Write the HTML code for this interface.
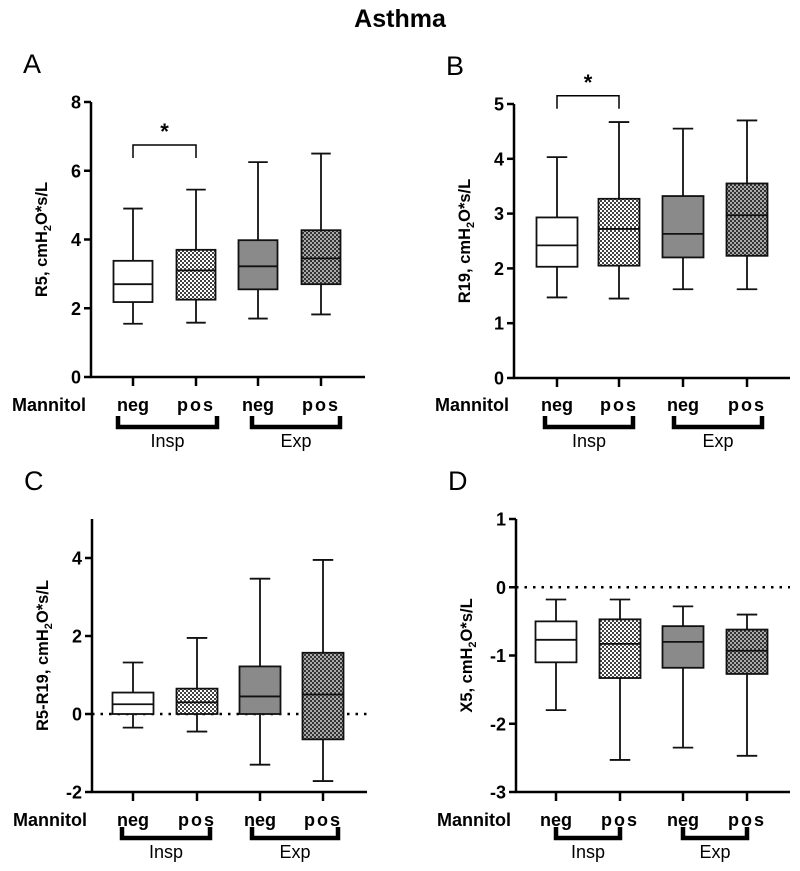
<!DOCTYPE html>
<html><head><meta charset="utf-8"><style>
html,body{margin:0;padding:0;background:#fff;width:800px;height:871px;overflow:hidden}
svg text{font-family:"Liberation Sans",Arial,sans-serif}
</style></head><body>
<svg id="fig" width="800" height="871" viewBox="0 0 800 871" xmlns="http://www.w3.org/2000/svg">
<defs>
<pattern id="chkLight" width="4" height="4" patternUnits="userSpaceOnUse"><rect width="4" height="4" fill="#fff"/><rect width="2" height="2" fill="#444"/><rect x="2" y="2" width="2" height="2" fill="#444"/></pattern>
<pattern id="chkDark" width="4" height="4" patternUnits="userSpaceOnUse"><rect width="4" height="4" fill="#333"/><rect width="2" height="2" fill="#aaa"/><rect x="2" y="2" width="2" height="2" fill="#aaa"/></pattern>
</defs>
<text x="400" y="27" text-anchor="middle" font-size="25" font-weight="bold">Asthma</text>
</svg>
<script>
// categories
const categories = ["neg","pos","neg","pos"];
const groups = ["Insp","Exp"];
// Panel A: R5
const aMin=[1.55,1.58,1.7,1.82], aQ1=[2.18,2.25,2.55,2.7], aMed=[2.7,3.1,3.22,3.45], aQ3=[3.38,3.7,3.98,4.27], aMax=[4.9,5.45,6.25,6.5];
const aTicks=[0,2,4,6,8];
// Panel B: R19
const bMin=[1.47,1.45,1.62,1.62], bQ1=[2.03,2.05,2.2,2.23], bMed=[2.42,2.72,2.63,2.97], bQ3=[2.93,3.27,3.32,3.55], bMax=[4.03,4.67,4.55,4.7];
const bTicks=[0,1,2,3,4,5];
// Panel C: R5-R19
const cMin=[-0.35,-0.45,-1.3,-1.72], cQ1=[0,0,0,-0.65], cMed=[0.25,0.3,0.45,0.5], cQ3=[0.55,0.65,1.22,1.57], cMax=[1.32,1.95,3.47,3.95];
const cTicks=[-2,0,2,4];
// Panel D: X5
const dMin=[-1.8,-2.53,-2.35,-2.47], dQ1=[-1.1,-1.33,-1.18,-1.27], dMed=[-0.77,-0.83,-0.8,-0.93], dQ3=[-0.5,-0.47,-0.57,-0.62], dMax=[-0.18,-0.18,-0.28,-0.4];
const dTicks=[-3,-2,-1,0,1];

const NS="http://www.w3.org/2000/svg";
const svg=document.getElementById('fig');
const fills=["#fff","url(#chkLight)","#8a8a8a","url(#chkDark)"];
function mk(tag,attrs,parent,txt){const e=document.createElementNS(NS,tag);for(const k in attrs)e.setAttribute(k,attrs[k]);if(txt!==undefined)e.textContent=txt;(parent||svg).appendChild(e);return e;}

function panel(p){
  const g=mk('g',{});
  
  
  const ys=v=>p.y0-(v-p.vmin)/(p.vmax-p.vmin)*(p.y0-p.y1);
  const lt=mk('text',{x:p.ax-68,y:p.y1-29,'font-size':27},g,p.id);
  
  
  const yt=mk('text',{transform:`translate(${p.ax-44},${(p.y0+p.y1)/2}) rotate(-90)`,'text-anchor':'middle','font-size':16.5,'font-weight':'bold'},g);
  
  
  yt.innerHTML=p.ylab+', cmH<tspan font-size="11" dy="4">2</tspan><tspan dy="-4">O*s/L</tspan>';
  if(p.zero){const z=mk('line',{x1:p.ax,x2:p.xr,y1:ys(0),y2:ys(0),stroke:'#000','stroke-width':2.5,'stroke-dasharray':'2.5 6'},g);
    
    }
  const ya=mk('line',{x1:p.ax,x2:p.ax,y1:p.y1,y2:p.y0+1,stroke:'#000','stroke-width':2.5},g);
  
  
  const xa=mk('line',{x1:p.ax-1,x2:p.xr,y1:p.y0,y2:p.y0,stroke:'#000','stroke-width':2.5},g);
  
  
  p.ticks.forEach(t=>{
    mk('line',{x1:p.ax-7,x2:p.ax,y1:ys(t),y2:ys(t),stroke:'#000','stroke-width':2.5},g);
    const tl=mk('text',{x:p.ax-10,y:ys(t)+6.5,'text-anchor':'end','font-size':18,'font-weight':'bold'},g,String(t));
    
    
  });
  const bw=p.bw;
  for(let i=0;i<4;i++){
    const cx=p.xs[i];
    mk('line',{x1:cx,x2:cx,y1:p.y0,y2:p.y0+9,stroke:'#000','stroke-width':2.5},g);
    const cl=mk('text',{x:cx,y:p.my,'text-anchor':'middle','font-size':18,'font-weight':'bold','letter-spacing':i%2?'2':'0'},g,categories[i]);
    
    
    const bx=mk('g',{},g);
    
    
    const st={stroke:'#111','stroke-width':1.8};
    mk('line',Object.assign({x1:cx,x2:cx,y1:ys(p.mx[i]),y2:ys(p.q3[i])},st),bx);
    mk('line',Object.assign({x1:cx,x2:cx,y1:ys(p.q1[i]),y2:ys(p.mn[i])},st),bx);
    mk('line',Object.assign({x1:cx-bw/4,x2:cx+bw/4,y1:ys(p.mx[i]),y2:ys(p.mx[i])},st),bx);
    mk('line',Object.assign({x1:cx-bw/4,x2:cx+bw/4,y1:ys(p.mn[i]),y2:ys(p.mn[i])},st),bx);
    mk('rect',Object.assign({x:cx-bw/2,y:ys(p.q3[i]),width:bw,height:ys(p.q1[i])-ys(p.q3[i]),fill:fills[i]},st),bx);
    mk('line',Object.assign({x1:cx-bw/2,x2:cx+bw/2,y1:ys(p.md[i]),y2:ys(p.md[i])},st),bx);
  }
  const ml=mk('text',{x:p.ax-5,y:p.my,'text-anchor':'end','font-size':18,'font-weight':'bold'},g,'Mannitol');
  
  
  p.br.forEach((b,k)=>{
    const bg=mk('path',{d:`M${b[0]} ${p.by-11}V${p.by}H${b[1]}V${p.by-11}`,fill:'none',stroke:'#000','stroke-width':4.5},g);
    
    
    const gl=mk('text',{x:(b[0]+b[1])/2,y:p.by+20,'text-anchor':'middle','font-size':18},g,groups[k]);
    
    
  });
  if(p.sig){
    const y=ys(p.sig), yb=ys(p.sig)+13;
    const s=mk('path',{d:`M${p.xs[0]} ${yb}V${y}H${p.xs[1]}V${yb}`,fill:'none',stroke:'#000','stroke-width':1.5},g);
    
    
    const st=mk('text',{x:(p.xs[0]+p.xs[1])/2,y:y-6,'text-anchor':'middle','font-size':22,'font-weight':'bold'},g,'*');
    
    
  }
}
panel({id:'A',ax:91,xr:365,y0:377,y1:102,vmin:0,vmax:8,ticks:aTicks,xs:[133,196,258,321],bw:39,mn:aMin,q1:aQ1,md:aMed,q3:aQ3,mx:aMax,ylab:'R5',my:411,by:427,br:[[118,217],[252,340]],sig:6.75});
panel({id:'B',ax:514,xr:790,y0:378,y1:104,vmin:0,vmax:5,ticks:bTicks,xs:[557,619,683,747],bw:41,mn:bMin,q1:bQ1,md:bMed,q3:bQ3,mx:bMax,ylab:'R19',my:411,by:427,br:[[545,633],[674,762]],sig:5.15});
panel({id:'C',ax:92,xr:367,y0:792,y1:519,vmin:-2,vmax:5,ticks:cTicks,xs:[133,197,260,323],bw:41,mn:cMin,q1:cQ1,md:cMed,q3:cQ3,mx:cMax,ylab:'R5-R19',my:826,by:838,br:[[122,210],[252,338]],zero:true});
panel({id:'D',ax:516,xr:790,y0:792,y1:519,vmin:-3,vmax:1,ticks:dTicks,xs:[556,620,683,747],bw:41,mn:dMin,q1:dQ1,md:dMed,q3:dQ3,mx:dMax,ylab:'X5',my:826,by:838,br:[[556,620],[683,747]],zero:true});
</script>
</body></html>
